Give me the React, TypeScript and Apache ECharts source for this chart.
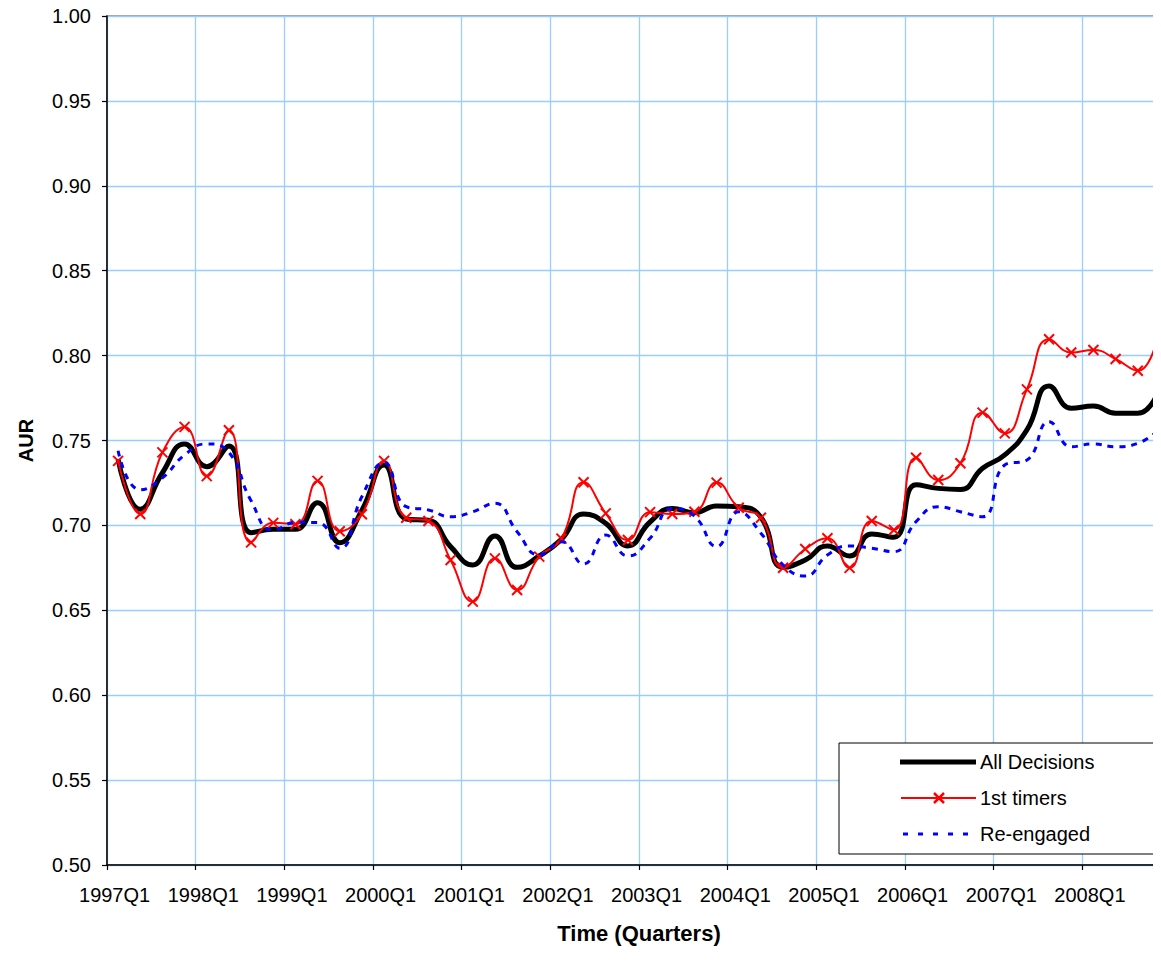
import React, { useEffect, useRef } from "react";
import * as echarts from "echarts";

const years = [1997, 1998, 1999, 2000, 2001, 2002, 2003, 2004, 2005, 2006, 2007, 2008];
const categories: string[] = [];
years.forEach((y) => {
  for (let q = 1; q <= 4; q++) categories.push(`${y}Q${q}`);
});

const allDecisions = [
  0.739, 0.7095, 0.731, 0.748, 0.7346, 0.7467, 0.6957, 0.6977, 0.6977, 0.7134, 0.6898, 0.709,
  0.7356, 0.7038, 0.703, 0.6875, 0.6767, 0.6938, 0.6753, 0.682, 0.6918, 0.7067, 0.7012, 0.6879,
  0.702, 0.71, 0.7075, 0.7114, 0.711, 0.7048, 0.6753, 0.6796, 0.6879, 0.682, 0.695, 0.693,
  0.724, 0.7218, 0.7212, 0.7336, 0.7415, 0.7562, 0.7821, 0.769, 0.7703, 0.766, 0.766, 0.7807,
];

const firstTimers = [
  0.738, 0.7067, 0.743, 0.758, 0.729, 0.756, 0.69, 0.7015, 0.7007, 0.7262, 0.6966, 0.7066,
  0.738, 0.7045, 0.7026, 0.6796, 0.6551, 0.6806, 0.662, 0.6816, 0.6922, 0.7254, 0.7071, 0.6914,
  0.7078, 0.7067, 0.708, 0.7252, 0.7104, 0.7045, 0.6751, 0.6861, 0.6924, 0.675, 0.7026, 0.6973,
  0.7398, 0.7267, 0.7366, 0.7664, 0.7542, 0.7801, 0.8096, 0.8018, 0.8033, 0.798, 0.7911, 0.817,
];

const reEngaged = [
  0.744, 0.721, 0.728, 0.7415, 0.748, 0.743, 0.7145, 0.697, 0.7018, 0.7017, 0.6865, 0.717,
  0.737, 0.711, 0.7091, 0.7051, 0.708, 0.713, 0.6963, 0.6826, 0.6904, 0.6773, 0.6943, 0.682,
  0.6924, 0.71, 0.7055, 0.6875, 0.708, 0.6954, 0.6767, 0.6702, 0.6826, 0.6879, 0.6865, 0.6845,
  0.7022, 0.711, 0.708, 0.7051, 0.7356, 0.7385, 0.7611, 0.7463, 0.748, 0.7463, 0.7483, 0.7572,
];

const legendNames = ["All Decisions", "1st timers", "Re-engaged"];

const FONT = "'Liberation Sans', Arial, sans-serif";
const X_PATH = "path://M0,0L10,10M10,0L0,10";

export default function App() {
  const ref = useRef<HTMLDivElement>(null);

  useEffect(() => {
    if (!ref.current) return;
    const chart = echarts.init(ref.current, undefined, { renderer: "svg" });
    const left = 107;
    const top = 16;
    const width = 1064;
    const height = 849;
    const lx = 839;
    const ly = 743;
    chart.setOption({
      animation: false,
      backgroundColor: "#ffffff",
      textStyle: { fontFamily: FONT },
      grid: {
        left,
        top,
        width,
        height,
        show: true,
        borderColor: "#808080",
        borderWidth: 1.5,
        backgroundColor: "transparent",
      },
      xAxis: {
        type: "category",
        data: categories,
        boundaryGap: true,
        name: "Time (Quarters)",
        nameLocation: "middle",
        nameGap: 57,
        nameTextStyle: { fontFamily: FONT, fontSize: 22, fontWeight: "bold", color: "#000" },
        axisLine: { show: true, lineStyle: { color: "#000", width: 1.5 } },
        axisTick: { show: true, interval: 3, length: 5, lineStyle: { color: "#000", width: 1.2 } },
        axisLabel: {
          interval: 3,
          margin: 20,
          fontFamily: FONT,
          fontSize: 20,
          color: "#000",
          padding: [0, 7, 0, 0],
        },
        splitLine: { show: true, interval: 3, lineStyle: { color: "#99CCFF", width: 1.3 } },
      },
      yAxis: {
        type: "value",
        min: 0.5,
        max: 1.0,
        interval: 0.05,
        name: "AUR",
        nameLocation: "middle",
        nameRotate: 90,
        nameGap: 71,
        nameTextStyle: { fontFamily: FONT, fontSize: 20, fontWeight: "bold", color: "#000" },
        axisLine: { show: true, lineStyle: { color: "#000", width: 1.5 } },
        axisTick: { show: true, length: 5, lineStyle: { color: "#000", width: 1.2 } },
        axisLabel: {
          margin: 16,
          fontFamily: FONT,
          fontSize: 20,
          color: "#000",
          formatter: (v: number) => v.toFixed(2),
        },
        splitLine: { show: true, lineStyle: { color: "#99CCFF", width: 1.3 } },
      },
      series: [
        {
          name: legendNames[0],
          type: "line",
          data: allDecisions,
          smooth: 0.5,
          showSymbol: false,
          symbol: "none",
          lineStyle: { color: "#000000", width: 5 },
          z: 2,
        },
        {
          name: legendNames[1],
          type: "line",
          data: firstTimers,
          smooth: 0.5,
          symbol: X_PATH,
          symbolSize: 10,
          showSymbol: true,
          itemStyle: { color: "#FF0000", borderColor: "#FF0000", borderWidth: 2 },
          lineStyle: { color: "#FF0000", width: 2 },
          z: 3,
        },
        {
          name: legendNames[2],
          type: "line",
          data: reEngaged,
          smooth: 0.5,
          symbol: "none",
          showSymbol: false,
          lineStyle: { color: "#0000FF", width: 3, type: [6, 6] },
          z: 4,
        },
      ],
      graphic: [
        {
          type: "rect",
          shape: { x: lx, y: ly, width: 320, height: 111 },
          style: { fill: "#ffffff", stroke: "#000", lineWidth: 1 },
          z: 100,
        },
        {
          type: "line",
          shape: { x1: 900, y1: 762, x2: 976, y2: 762 },
          style: { stroke: "#000", lineWidth: 5 },
          z: 101,
        },
        {
          type: "line",
          shape: { x1: 901, y1: 798, x2: 976, y2: 798 },
          style: { stroke: "#FF0000", lineWidth: 2 },
          z: 101,
        },
        {
          type: "line",
          shape: { x1: 934, y1: 793, x2: 944, y2: 803 },
          style: { stroke: "#FF0000", lineWidth: 2.5 },
          z: 101,
        },
        {
          type: "line",
          shape: { x1: 944, y1: 793, x2: 934, y2: 803 },
          style: { stroke: "#FF0000", lineWidth: 2.5 },
          z: 101,
        },
        {
          type: "line",
          shape: { x1: 903, y1: 834, x2: 968, y2: 834 },
          style: { stroke: "#0000FF", lineWidth: 3, lineDash: [5, 10] },
          z: 101,
        },
        ...legendNames.map((n, i) => ({
          type: "text",
          x: 980,
          y: 762 + i * 36,
          style: {
            text: n,
            fill: "#000",
            font: `20px ${FONT}`,
            textVerticalAlign: "middle",
            verticalAlign: "middle",
          },
          z: 101,
        })),
      ],
    });
    return () => chart.dispose();
  }, []);

  return (
    <div style={{ width: 1161, height: 973, margin: -8, overflow: "hidden", position: "relative" }}>
      <div ref={ref} style={{ width: 1190, height: 973 }} />
    </div>
  );
}
